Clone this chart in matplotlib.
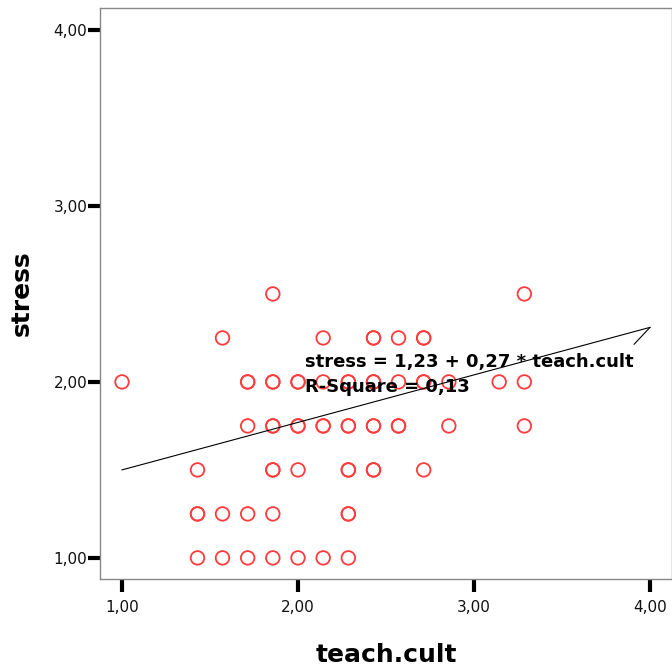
import matplotlib
matplotlib.use("Agg")
import matplotlib.pyplot as plt
import numpy as np

plt.rcParams['font.family'] = ['DejaVu Sans']

# Data: (teach.cult, stress) points; repeated entries mark overlapping cases
teach_cult = [
    1.429, 1.571, 1.714, 1.857, 2.000, 2.143, 2.286,            # stress 1.00
    1.429, 1.429, 1.571, 1.714, 1.857, 2.286, 2.286,            # stress 1.25
    1.429, 1.857, 1.857, 2.000, 2.286, 2.286, 2.429, 2.429, 2.714,  # stress 1.50
    1.714, 1.857, 1.857, 2.000, 2.000, 2.143, 2.143, 2.286, 2.286,
    2.429, 2.429, 2.571, 2.571, 2.857, 3.286,                   # stress 1.75
    1.000, 1.714, 1.714, 1.857, 1.857, 2.000, 2.000, 2.143, 2.286,
    2.286, 2.429, 2.429, 2.571, 2.714, 2.714, 2.857, 3.143, 3.286,  # stress 2.00
    1.571, 2.143, 2.429, 2.429, 2.571, 2.714, 2.714,            # stress 2.25
    1.857, 3.286,                                               # stress 2.50
]
stress = (
    [1.00] * 7 + [1.25] * 7 + [1.50] * 9 + [1.75] * 15 + [2.00] * 18
    + [2.25] * 7 + [2.50] * 2
)

intercept = 1.23
slope = 0.27
r_square = 0.13
line_x = [1.0, 4.0]

x_ticks = [1.0, 2.0, 3.0, 4.0]
x_ticklabels = ["1,00", "2,00", "3,00", "4,00"]
y_ticks = [1.0, 2.0, 3.0, 4.0]
y_ticklabels = ["1,00", "2,00", "3,00", "4,00"]

fig = plt.figure(figsize=(6.72, 6.70), dpi=100)
ax = fig.add_axes([100 / 672, 1 - 579 / 670, 572 / 672, 571 / 670])

ax.scatter(teach_cult, stress, s=95, facecolors='none', edgecolors='#ff3b3b',
           linewidths=1.3, zorder=3)

lx = np.array(line_x)
ax.plot(lx, intercept + slope * lx, color='black', lw=0.8, zorder=4)
# leader from the fit label to the line end
ax.annotate('', xy=(lx[-1], intercept + slope * lx[-1]),
            xytext=(-16, -17), textcoords='offset pixels',
            arrowprops=dict(arrowstyle='-', color='black', lw=0.8,
                            shrinkA=0, shrinkB=0))

ax.text(2.04, 2.082, "stress = 1,23 + 0,27 * teach.cult", fontsize=13,
        fontweight='bold', ha='left', va='baseline', zorder=5)
ax.text(2.04, 1.944, "R-Square = 0,13", fontsize=13,
        fontweight='bold', ha='left', va='baseline', zorder=5)

ax.set_xlim(0.875, 4.125)
ax.set_ylim(0.88, 4.125)
ax.set_xticks(x_ticks)
ax.set_xticklabels(x_ticklabels)
ax.set_yticks(y_ticks)
ax.set_yticklabels(y_ticklabels)
ax.tick_params(axis='both', direction='out', length=9, width=3, color='black',
               labelsize=11, labelcolor='#111111')
ax.tick_params(axis='x', pad=6)
ax.tick_params(axis='y', pad=0)

for s in ax.spines.values():
    s.set_color('#888888')
    s.set_linewidth(1.0)

ax.set_xlabel("teach.cult", fontsize=18, fontweight='bold', labelpad=20)
ax.set_ylabel("stress", fontsize=18, fontweight='bold', labelpad=14)

fig.savefig("out.png", dpi=100)
